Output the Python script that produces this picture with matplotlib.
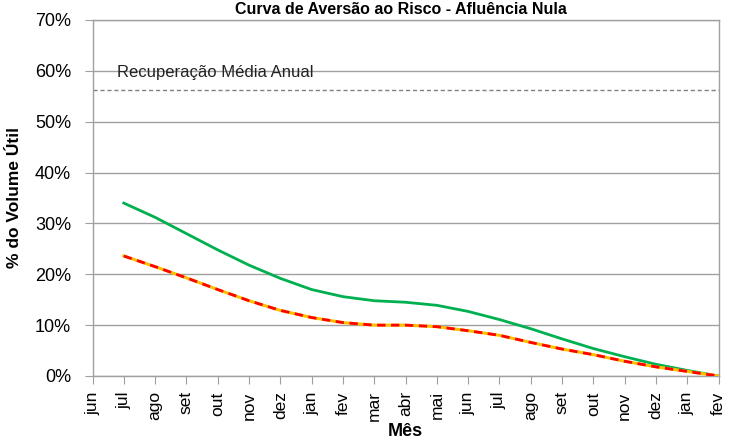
import matplotlib
matplotlib.use("Agg")
import matplotlib.pyplot as plt
from matplotlib.ticker import FuncFormatter

plt.rcParams['font.family'] = ['Liberation Sans', 'DejaVu Sans']

months = ["jun", "jul", "ago", "set", "out", "nov", "dez", "jan", "fev", "mar", "abr",
          "mai", "jun", "jul", "ago", "set", "out", "nov", "dez", "jan", "fev"]
green = [None, 34.0, 31.2, 28.0, 24.8, 21.8, 19.2, 17.0, 15.6, 14.8, 14.5,
         13.9, 12.7, 11.1, 9.3, 7.3, 5.4, 3.8, 2.3, 1.1, 0.0]
red = [None, 23.6, 21.5, 19.3, 17.0, 14.8, 12.9, 11.5, 10.5, 10.0, 10.0,
       9.7, 8.9, 8.0, 6.6, 5.3, 4.2, 2.9, 1.8, 0.9, 0.0]
recuperacao = 56.2
yticks = [0, 10, 20, 30, 40, 50, 60, 70]

fig = plt.figure(figsize=(7.3, 4.41), dpi=100)
ax = fig.add_axes([92.5/730, 1 - 376/441, (718.5-92.5)/730, (376-20)/441])

x = list(range(len(months)))
gx = [i for i, v in zip(x, green) if v is not None]
gv = [v for v in green if v is not None]
rx = [i for i, v in zip(x, red) if v is not None]
rv = [v for v in red if v is not None]

ax.plot(gx, gv, color="#00b050", lw=2.0, zorder=3)
ax.plot(rx, rv, color="#ffc000", lw=2.2, zorder=3)
ax.plot(rx, rv, color="#ff0000", lw=2.0, ls=(0, (3, 2)), zorder=4)
ax.axhline(recuperacao, color="#808080", lw=1.0, ls=(0, (3, 2)), zorder=2)
ax.text(0.77, 58.3, "Recuperação Média Anual", fontsize=12, color="#222222", va="bottom", ha="left")

ax.set_xlim(0, len(months) - 1)
ax.set_ylim(0, 70)
ax.set_yticks(yticks)
ax.yaxis.set_major_formatter(FuncFormatter(lambda v, p: f"{int(v)}%"))
ax.set_xticks(x)
ax.set_xticklabels(months, rotation=90, fontsize=12.5)
ax.tick_params(axis='y', labelsize=13, length=6, color="#a0a0a0", direction="out", pad=9.5)
ax.tick_params(axis='x', length=6, color="#a0a0a0", direction="out", pad=5)
ax.grid(axis='y', color="#a0a0a0", lw=1.0)
ax.set_axisbelow(True)
for s in ax.spines.values():
    s.set_color("#a0a0a0")
    s.set_linewidth(1.0)

ax.set_xlabel("Mês", fontsize=13, fontweight="bold", labelpad=1.5)
ax.set_ylabel("% do Volume Útil", fontsize=12.5, fontweight="bold", labelpad=9)
fig.text(401/730, 1 - 14/441, "Curva de Aversão ao Risco - Afluência Nula",
         fontsize=11.5, fontweight="bold", ha="center", va="baseline")

fig.savefig("out.png", dpi=100)
